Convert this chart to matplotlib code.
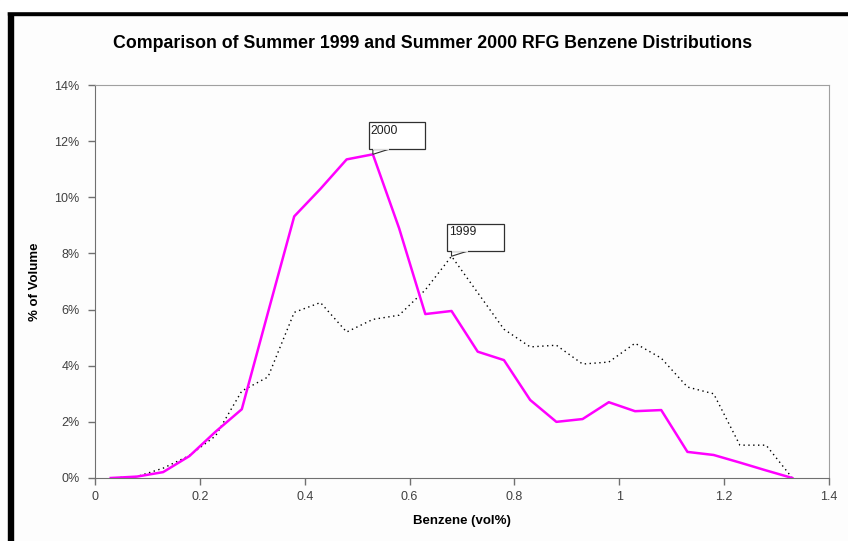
import matplotlib
matplotlib.use("Agg")
import matplotlib.pyplot as plt
from matplotlib.patches import Rectangle, Polygon

plt.rcParams['font.family'] = ['Liberation Sans', 'DejaVu Sans']

# benzene bins (vol%)
benzene = [0.03, 0.08, 0.13, 0.18, 0.23, 0.28, 0.33, 0.38, 0.43, 0.48,
           0.53, 0.58, 0.63, 0.68, 0.73, 0.78, 0.83, 0.88, 0.93, 0.98,
           1.03, 1.08, 1.13, 1.18, 1.23, 1.28, 1.33]

# % of volume
summer_1999 = [0.0, 0.05, 0.35, 0.8, 1.5, 3.1, 3.6, 5.9, 6.25, 5.2,
               5.65, 5.8, 6.7, 7.9, 6.6, 5.3, 4.67, 4.73, 4.06, 4.13,
               4.8, 4.27, 3.24, 3.0, 1.17, 1.17, 0.0]
summer_2000 = [0.0, 0.05, 0.21, 0.78, 1.65, 2.45, 5.9, 9.32, 10.3, 11.35,
               11.53, 8.9, 5.84, 5.95, 4.5, 4.2, 2.78, 2.0, 2.1, 2.7,
               2.38, 2.42, 0.93, 0.82, 0.55, 0.27, 0.0]

x_ticks = [0, 0.2, 0.4, 0.6, 0.8, 1.0, 1.2, 1.4]
x_labels = ['0', '0.2', '0.4', '0.6', '0.8', '1', '1.2', '1.4']
y_ticks = [0, 2, 4, 6, 8, 10, 12, 14]
y_labels = ['0%', '2%', '4%', '6%', '8%', '10%', '12%', '14%']

fig = plt.figure(figsize=(8.48, 5.41), dpi=100, facecolor='#fdfdfd')
ax = fig.add_axes([95 / 848, 1 - 478 / 541, 734 / 848, 393 / 541])
ax.set_facecolor('#fdfdfd')

ax.plot(benzene, summer_1999, color='black', lw=1.0, ls=(0, (1, 2.5)))
ax.plot(benzene, summer_2000, color='#ff00ff', lw=1.8)

ax.set_xlim(0, 1.4)
ax.set_ylim(0, 14)
ax.set_xticks(x_ticks)
ax.set_xticklabels(x_labels)
ax.set_yticks(y_ticks)
ax.set_yticklabels(y_labels)
ax.tick_params(direction='out', length=5, width=1, color='#707070',
               labelsize=9, labelcolor='#404040')
ax.tick_params(axis='x', pad=4)
ax.tick_params(axis='y', pad=6)

for side in ['left', 'bottom']:
    ax.spines[side].set_color('#707070')
for side in ['top', 'right']:
    ax.spines[side].set_color('#a0a0a0')

ax.set_xlabel('Benzene (vol%)', fontsize=9.5, fontweight='bold', labelpad=9)
ax.set_ylabel('% of Volume', fontsize=9.5, fontweight='bold', labelpad=10)
fig.text(433 / 848, 1 - 44 / 541,
         'Comparison of Summer 1999 and Summer 2000 RFG Benzene Distributions',
         ha='center', va='center', fontsize=12.8, fontweight='bold')


# callout labels
def callout(label, px, py):
    bx, by, bw, bh = px - 0.008, py + 0.19, 0.108, 0.95
    ax.add_patch(Polygon([(bx + 0.008, by), (px, py), (bx + 0.04, by)],
                         closed=True, facecolor='white', edgecolor='#303030',
                         lw=0.8, zorder=4))
    ax.add_patch(Rectangle((bx, by), bw, bh, facecolor='white',
                           edgecolor='#303030', lw=0.9, zorder=5))
    ax.plot([bx + 0.009, bx + 0.039], [by, by], color='white', lw=1.2,
            zorder=6, solid_capstyle='butt')
    ax.text(bx + 0.004, by + bh - 0.08, label, fontsize=8.8, va='top',
            ha='left', color='#202020', zorder=7)


i2000 = summer_2000.index(max(summer_2000))
i1999 = summer_1999.index(max(summer_1999))
callout('2000', benzene[i2000], summer_2000[i2000])
callout('1999', benzene[i1999], summer_1999[i1999])

# black frame edges of the original image
fig.add_artist(Rectangle((8 / 848, 0), 5 / 848, 1 - 11 / 541,
                         transform=fig.transFigure, color='black'))
fig.add_artist(Rectangle((8 / 848, 1 - 15 / 541), 1, 4 / 541,
                         transform=fig.transFigure, color='black'))
fig.add_artist(Rectangle((0, 1 - 11 / 541), 1, 11 / 541,
                         transform=fig.transFigure, color='white'))

fig.savefig('out.png', dpi=100, facecolor=fig.get_facecolor())
